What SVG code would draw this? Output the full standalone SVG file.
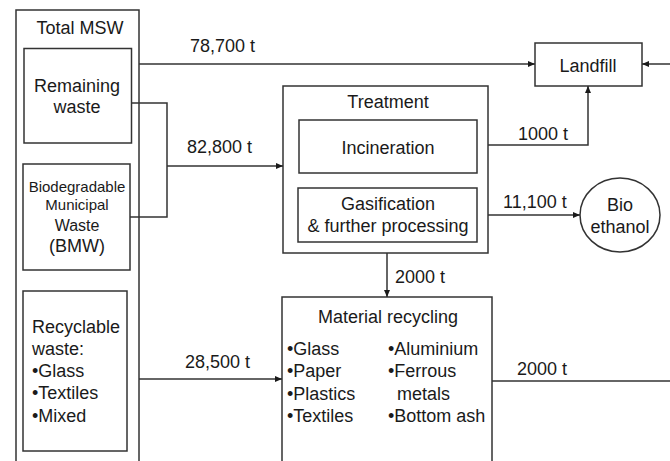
<svg xmlns="http://www.w3.org/2000/svg" width="670" height="461" viewBox="0 0 670 461">
<style>
.box{fill:#fff;stroke:#333;stroke-width:1.5}
.ln{fill:none;stroke:#333;stroke-width:1.5}
text{font-family:"Liberation Sans",Arial,sans-serif;font-size:18px;fill:#1a1a1a}
.c{text-anchor:middle}
.s{font-size:15px}
</style>
<defs>
<marker id="ah" markerWidth="8" markerHeight="8" refX="7" refY="4" orient="auto" markerUnits="userSpaceOnUse">
<path d="M0,1 L7,4 L0,7 Z" fill="#1a1a1a"/>
</marker>
</defs>
<rect width="670" height="461" fill="#fff"/>
<g id="total-msw">
<rect class="box" x="16" y="10" width="123" height="470"/>
<text class="c" x="80" y="34">Total MSW</text>
</g>
<g id="remaining-waste">
<rect class="box" x="24" y="48.5" width="107.5" height="94.5"/>
<text class="c" x="77" y="92">Remaining</text>
<text class="c" x="77" y="113">waste</text>
</g>
<g id="bmw">
<rect class="box" x="23" y="164" width="107" height="106"/>
<text class="c s" x="77" y="192">Biodegradable</text>
<text class="c s" x="77" y="210">Municipal</text>
<text class="c" x="77" y="231" style="font-size:16px">Waste</text>
<text class="c" x="77" y="252">(BMW)</text>
</g>
<g id="recyclable-waste">
<rect class="box" x="23" y="291" width="104" height="160"/>
<text x="32" y="333">Recyclable</text>
<text x="32" y="355">waste:</text>
<text x="32" y="377">•Glass</text>
<text x="32" y="399">•Textiles</text>
<text x="32" y="422">•Mixed</text>
</g>
<g id="landfill">
<rect class="box" x="535" y="43" width="107" height="43"/>
<text class="c" x="588" y="72">Landfill</text>
</g>
<g id="treatment">
<rect class="box" x="283" y="86" width="205" height="167"/>
<text class="c" x="388" y="108">Treatment</text>
<rect class="box" x="299" y="120" width="178" height="53"/>
<text class="c" x="388" y="154">Incineration</text>
<rect class="box" x="298" y="188" width="179" height="54"/>
<text class="c" x="388" y="210">Gasification</text>
<text class="c" x="388" y="232">&amp; further processing</text>
</g>
<g id="bioethanol">
<ellipse class="box" cx="620" cy="215" rx="40" ry="37"/>
<text class="c" x="620" y="211">Bio</text>
<text class="c" x="620" y="233">ethanol</text>
</g>
<g id="material-recycling">
<rect class="box" x="282" y="297" width="210" height="180"/>
<text class="c" x="388" y="323">Material recycling</text>
<text x="287" y="355">•Glass</text>
<text x="287" y="377">•Paper</text>
<text x="287" y="400">•Plastics</text>
<text x="287" y="422">•Textiles</text>
<text x="388" y="355">•Aluminium</text>
<text x="388" y="377">•Ferrous</text>
<text x="397" y="400">metals</text>
<text x="388" y="422">•Bottom ash</text>
</g>
<g id="connectors">
<line class="ln" x1="139" y1="64" x2="535" y2="64" marker-end="url(#ah)"/>
<line class="ln" x1="670" y1="64" x2="642" y2="64" marker-end="url(#ah)"/>
<polyline class="ln" points="131.5,103 167,103 167,217 130,217"/>
<line class="ln" x1="167" y1="166" x2="283" y2="166" marker-end="url(#ah)"/>
<polyline class="ln" points="488,145 588,145 588,86" marker-end="url(#ah)"/>
<line class="ln" x1="488" y1="215" x2="580" y2="215" marker-end="url(#ah)"/>
<line class="ln" x1="387" y1="253" x2="387" y2="297" marker-end="url(#ah)"/>
<line class="ln" x1="139" y1="379" x2="282" y2="379" marker-end="url(#ah)"/>
<line class="ln" x1="492" y1="381" x2="670" y2="381"/>
<text x="190" y="52">78,700 t</text>
<text x="187" y="153">82,800 t</text>
<text x="185" y="368">28,500 t</text>
<text x="518" y="140">1000 t</text>
<text x="503" y="208">11,100 t</text>
<text x="395" y="283">2000 t</text>
<text x="517" y="375">2000 t</text>
</g>
</svg>
